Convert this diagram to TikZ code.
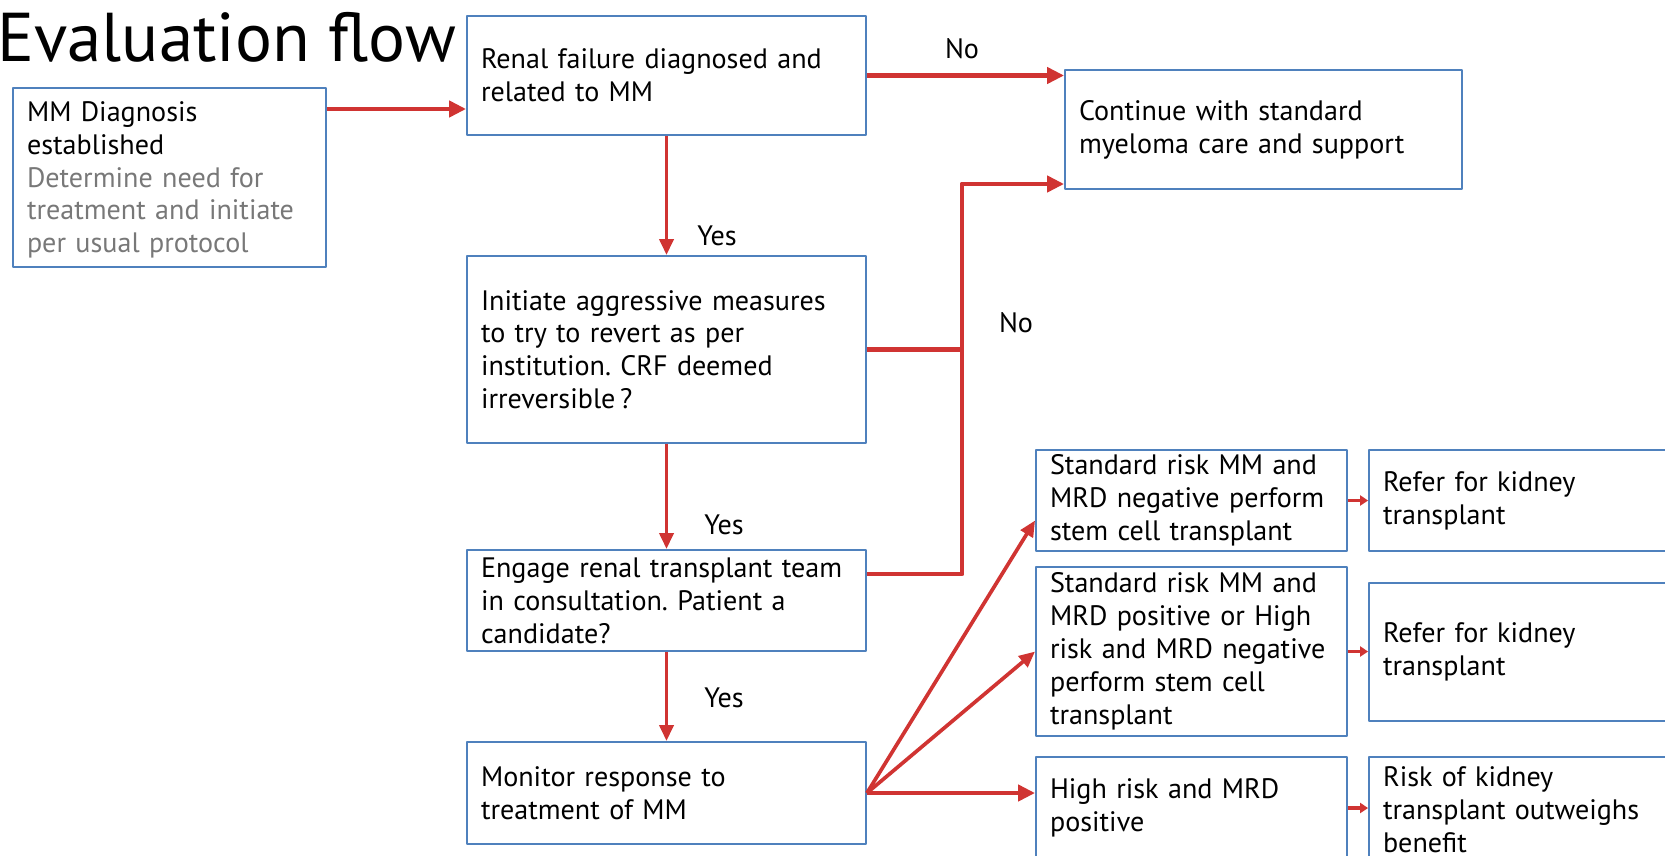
\documentclass[tikz,border=0pt]{standalone}
\usepackage{fontspec}
\setmainfont{PT Sans}
\usetikzlibrary{arrows.meta,calc}
\definecolor{boxblue}{RGB}{79,129,189}
\definecolor{arrred}{RGB}{208,52,50}
\definecolor{notegray}{RGB}{120,120,120}
\frenchspacing
\begin{document}
\begin{tikzpicture}[x=0.02cm, y=-0.02cm, font=\fontsize{16}{18.7}\selectfont, line join=round,
  box/.style={draw=boxblue, line width=1.1pt, align=left, inner xsep=0.28cm, inner ysep=0pt},
  flowbig/.style={draw=arrred, line width=2.8pt, -{Triangle[length=0.34cm,width=0.32cm]}},
  flowmid/.style={draw=arrred, line width=2.1pt, -{Triangle[length=0.32cm,width=0.28cm]}},
  flowsmall/.style={draw=arrred, line width=2.2pt, -{Triangle[length=0.16cm,width=0.2cm]}},
  bus/.style={draw=arrred, line width=2.8pt}]
\useasboundingbox (0,0) rectangle (1665,855);
\clip (0,0) rectangle (1665,855);
\node[anchor=base west, font=\fontsize{39.3}{44}\selectfont] (title) at (-9,62) {Evaluation flow};
% left column
\node[box, text width=5.70cm, minimum height=3.58cm] (dx) at (169.5,177.5)
  {\\[-0.16cm]MM Diagnosis\\established\\\color{notegray}Determine need for\\treatment and initiate\\per usual protocol};
\node[box, text width=7.42cm, minimum height=2.38cm] (renal) at (666.5,75.5)
  {Renal failure diagnosed and\\related to MM};
\node[box, text width=7.42cm, minimum height=3.74cm] (init) at (666.5,349.5)
  {Initiate aggressive measures\\to try to revert as per\\institution. CRF deemed\\irreversible\,?};
\node[box, text width=7.42cm, minimum height=2.02cm] (engage) at (666.5,600.5)
  {Engage renal transplant team\\in consultation. Patient a\\candidate?};
\node[box, text width=7.42cm, minimum height=2.04cm] (monitor) at (666.5,793)
  {Monitor response to\\treatment of MM};
\node[box, text width=7.38cm, minimum height=2.38cm] (cont) at (1263.5,129.5)
  {Continue with standard\\myeloma care and support};
% risk groups
\node[box, text width=5.66cm, minimum height=2.02cm] (srneg) at (1191.5,500.5)
  {Standard risk MM and\\MRD negative perform\\stem cell transplant};
\node[box, text width=5.66cm, minimum height=3.38cm] (srpos) at (1191.5,651.5)
  {Standard risk MM and\\MRD positive or High\\risk and MRD negative\\perform stem cell\\transplant};
\node[box, text width=5.66cm, minimum height=2.04cm] (hrpos) at (1191.5,808)
  {High risk and MRD\\positive};
\node[box, text width=6.06cm, minimum height=2.02cm] (refa) at (1534.5,500.5)
  {Refer for kidney\\transplant};
\node[box, text width=6.06cm, minimum height=2.76cm] (refb) at (1534.5,652)
  {Refer for kidney\\transplant};
\node[box, text width=6.06cm, minimum height=2.12cm] (riskk) at (1534.5,810)
  {Risk of kidney\\transplant outweighs\\benefit};
% labels
\node (noa) at (962,49) {No};
\node (nob) at (1016,323) {No};
\node (yesa) at (717,236) {Yes};
\node (yesb) at (724,525) {Yes};
\node (yesc) at (724,698) {Yes};
% connectors
\coordinate (dxout) at (0,109);
\coordinate (busbot) at (962,574);
\coordinate (bustop) at (962,184);
\draw[flowbig] (dx.east |- dxout) -- (renal.west |- dxout);
\draw[flowbig] (renal.east) -- (renal.east -| cont.west);
\draw[flowmid] (renal.south) -- (init.north);
\draw[flowmid] (init.south) -- (engage.north);
\draw[flowmid] (engage.south) -- (monitor.north);
\draw[bus] (init.east) -- (init.east -| busbot);
\draw[flowbig] (engage.east |- busbot) -- (busbot) -- (bustop) -- (bustop -| cont.west);
\draw[flowmid] (monitor.east) -- ([yshift=-0.4cm]srneg.west);
\draw[flowmid] (monitor.east) -- (srpos.west);
\draw[flowbig] (monitor.east) -- (monitor.east -| hrpos.west);
\draw[flowsmall] (srneg.east) -- (refa.west);
\draw[flowsmall] (srpos.east) -- (srpos.east -| refb.west);
\draw[flowsmall] (hrpos.east) -- (hrpos.east -| riskk.west);
\end{tikzpicture}
\end{document}
